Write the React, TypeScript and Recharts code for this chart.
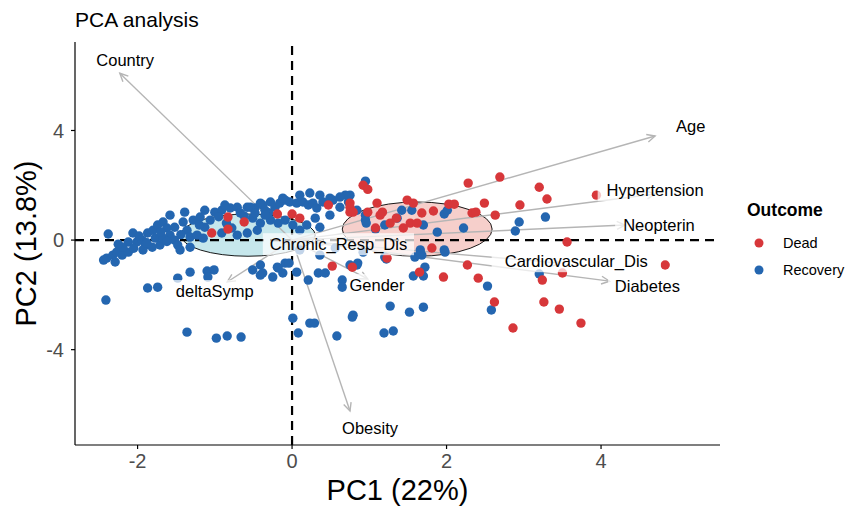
import React from 'react';
import { ScatterChart, Scatter, XAxis, YAxis, ZAxis, ReferenceLine, ReferenceArea, Legend } from 'recharts';

const FONT = '"Liberation Sans", Arial, Helvetica, sans-serif';

// PC scores, [PC1, PC2]
const recoveryScores: [number, number][] = [
  [-2.38, 0.22], [-2.40, -0.66], [-2.32, -0.55], [-2.20, -0.55], [-2.12, -0.44], [-2.06, 0.26], [-2.12, -0.07],
  [-2.01, -0.07], [-1.94, 0.00], [-1.90, -0.18], [-1.87, 0.26], [-1.80, 0.36], [-1.77, 0.07], [-1.71, -0.18],
  [-1.74, 0.55], [-1.67, 0.66], [-1.62, 0.44], [-1.58, 0.18], [-1.52, 0.00], [-1.48, -0.18], [-1.52, 0.47],
  [-1.41, 0.66], [-1.36, 0.36], [-1.32, 0.11], [-1.28, 0.73], [-1.19, 0.84], [-1.23, 0.18], [-1.15, 0.07],
  [-1.13, 0.47], [-1.06, 0.73], [-1.00, 1.02], [-0.91, 1.09], [-0.80, 1.17], [-0.71, 1.20], [-0.58, 1.20],
  [-0.48, 1.17], [-0.38, 1.28], [-0.51, 0.80], [-0.41, 0.62], [-0.71, 0.18], [-0.58, 0.26], [-0.45, 0.36],
  [-0.91, 0.26], [-1.32, -0.26], [-1.45, -0.36], [-1.67, 0.07], [-1.81, -0.26], [-1.93, -0.36], [-2.27, -0.44],
  [-2.19, -0.26], [-2.29, -0.80], [-2.44, -0.73], [-1.58, 0.91], [-1.39, 1.02], [-1.13, 1.09], [-0.87, 1.28],
  [-0.67, 0.99], [-0.78, 0.44], [-2.25, -0.15], [-2.05, -0.30], [-1.98, 0.15], [-1.62, -0.05], [-1.44, 0.20],
  [-1.20, 0.55], [-0.95, 0.85], [-0.85, 0.62], [-0.62, 0.88], [-0.30, 1.00], [-1.70, 0.30], [-1.88, -0.10],
  [-0.54, 1.20], [-0.48, 0.99], [-0.41, 1.35], [-0.35, 1.09], [-0.28, 1.39], [-0.22, 1.20], [-0.16, 1.35],
  [-0.09, 1.46], [-0.03, 1.39], [0.06, 1.35], [0.14, 1.39], [0.21, 1.28], [0.27, 1.35], [0.32, 1.17],
  [-0.28, 0.73], [-0.18, 0.62], [-0.09, 0.73], [0.01, 0.55], [0.19, 0.55], [0.30, 0.80], [0.40, 1.39],
  [0.53, 1.46], [0.62, 1.20], [0.73, 1.39], [0.36, 0.47], [0.75, 1.64], [0.69, 1.64], [0.62, 1.57],
  [0.49, 1.53], [0.95, 2.15], [0.95, 0.73], [1.20, 0.55], [1.36, 0.80], [1.42, 1.09], [0.84, 1.09],
  [0.10, 1.64], [0.23, 1.72], [0.36, 1.64], [-0.12, 1.53], [-0.35, 0.91], [0.10, 0.36], [0.49, 0.91],
  [-0.51, -1.09], [-0.41, -1.28], [-0.19, -0.99], [-0.09, -0.84], [-0.12, -1.20], [-0.25, -1.35], [0.06, -1.17],
  [0.21, -1.46], [0.34, -1.20], [0.43, -1.20], [0.75, -0.91], [0.84, -0.91], [0.65, -1.46], [0.65, -1.72],
  [1.22, -0.69], [1.57, -1.31], [1.70, -1.31], [1.72, -0.99], [2.53, -1.68], [2.58, -2.55], [3.20, -1.24],
  [1.27, -2.41], [1.52, -2.63], [1.70, -2.45], [0.79, -2.74], [0.78, -2.81], [0.01, -2.85], [0.23, -3.03],
  [0.29, -3.03], [0.08, -3.39], [0.58, -3.50], [1.19, -3.39], [1.31, -3.32], [1.66, -0.36], [1.68, -0.55],
  [0.92, -0.44], [1.59, -0.62], [-0.41, -0.91], [-0.38, -1.20], [-0.04, -0.84], [-0.18, -1.02], [-2.41, -2.19],
  [-1.87, -1.75], [-1.74, -1.72], [-1.36, -3.36], [-0.98, -3.58], [-0.84, -3.50], [-0.66, -3.54], [-1.48, -1.39],
  [-1.32, -1.17], [-1.10, -1.13], [-1.01, -1.09], [-1.09, -1.35], [0.10, -0.36], [0.36, -0.55], [0.56, -0.29],
  [1.97, 0.95], [2.01, 1.09], [2.94, 0.66], [2.89, 0.33], [3.28, 0.84], [2.22, 0.44], [1.70, 0.55],
  [1.97, -0.36], [1.66, -0.47], [1.88, 0.29], [0.95, 0.91], [0.96, 0.62], [1.08, 0.40], [1.55, 1.09],
  [1.98, -0.44], [1.20, -0.62], [0.85, -0.84],
];

const deadScores: [number, number][] = [
  [-1.04, 0.26], [-0.83, 0.84], [-0.83, 0.40], [-0.62, 0.66], [0.10, 0.80], [0.00, 0.95], [-0.19, 0.95],
  [0.92, 2.00], [0.98, 1.85], [0.47, 1.28], [0.75, 1.35], [0.75, 1.02], [0.98, 1.02], [1.10, 1.35],
  [1.17, 1.02], [1.27, 0.62], [1.49, 1.46], [1.57, 1.35], [1.68, 0.99], [1.53, 0.62], [1.62, 0.62],
  [1.44, 0.44], [1.08, 0.44], [1.83, 1.06], [2.03, 1.31], [2.10, 1.31], [2.33, 0.99], [2.38, 1.02],
  [2.63, 0.91], [2.49, 1.35], [2.95, 1.28], [2.28, 2.08], [2.69, 2.30], [3.20, 1.93], [3.30, 1.50],
  [3.94, 1.64], [3.56, -0.07], [1.81, -0.29], [2.27, -0.91], [1.96, -1.35], [2.41, -1.39], [3.24, -1.46],
  [3.50, -1.20], [4.83, -0.91], [0.52, -0.95], [0.78, -0.99], [1.65, -1.17], [2.62, -2.26], [2.86, -3.21],
  [3.26, -2.26], [3.46, -2.52], [3.74, -3.03], [1.23, -0.66], [0.75, 1.20], [0.79, 1.02], [1.14, 0.91],
  [1.35, 0.80],
];

// variable loadings (arrow tips) and where their labels sit
const varNames = ['Country', 'Age', 'Hypertension', 'Neopterin', 'Cardiovascular_Dis', 'Diabetes', 'Chronic_Resp_Dis', 'Gender', 'deltaSymp', 'Obesity'];
const arrowTips: [number, number][] = [
  [-2.23, 6.09], [4.70, 3.80], [4.70, 1.68], [4.31, 0.55], [3.47, -0.84], [4.11, -1.50], [0.45, -0.12], [0.98, -1.42], [-0.84, -1.53], [0.75, -6.24],
];
const labelPos: [number, number][] = [
  [-2.16, 6.57], [5.16, 4.16], [4.70, 1.82], [4.75, 0.55], [3.68, -0.77], [4.60, -1.68], [0.60, -0.15], [1.10, -1.64], [-1.00, -1.86], [1.01, -6.86],
];

// concentration ellipses per group: [x1, x2, y1, y2]
const groups = ['Dead', 'Recovery'];
const ellipseBounds: [number, number, number, number][] = [
  [0.65, 2.59, -0.59, 1.39],
  [-1.44, 0.30, -0.59, 0.95],
];

const xTicks = [-2, 0, 2, 4];
const yTicks = [-4, 0, 4];
const xDomain = [-2.81, 5.54];
const yDomain = [-7.48, 7.23];

const COLORS: Record<string, string> = { Dead: '#D7373A', Recovery: '#2466B0' };
const ELLIPSE_FILL: Record<string, string> = { Dead: '#F6CFCB', Recovery: '#C6E7EC' };

const recoveryData = recoveryScores.map(([x, y]) => ({ x, y }));
const deadData = deadScores.map(([x, y]) => ({ x, y }));
const labelData = varNames.map((name, i) => ({ name, x: labelPos[i][0], y: labelPos[i][1] }));

const ArrowShape = (props: any) => {
  const { x1, y1, x2, y2 } = props;
  const ang = Math.atan2(y2 - y1, x2 - x1);
  const L = 9;
  const a = Math.PI / 7;
  const h1 = `${x2 - L * Math.cos(ang - a)},${y2 - L * Math.sin(ang - a)}`;
  const h2 = `${x2 - L * Math.cos(ang + a)},${y2 - L * Math.sin(ang + a)}`;
  return (
    <g>
      <line x1={x1} y1={y1} x2={x2} y2={y2} stroke="#b5b5b5" strokeWidth={1.4} />
      <polyline points={`${h1} ${x2},${y2} ${h2}`} fill="none" stroke="#b5b5b5" strokeWidth={1.4} />
    </g>
  );
};

const makeEllipse = (group: string) => (props: any) => {
  const { x, y, width, height } = props;
  return (
    <ellipse
      cx={x + width / 2}
      cy={y + height / 2}
      rx={Math.abs(width) / 2}
      ry={Math.abs(height) / 2}
      fill={ELLIPSE_FILL[group]}
      stroke="#000"
      strokeWidth={0.9}
    />
  );
};

const makeDot = (color: string) => (props: any) => <circle cx={props.cx} cy={props.cy} r={4.7} fill={color} />;

const LabelShape = (props: any) => {
  const { cx, cy, payload } = props;
  const fs = 16.5;
  const w = payload.name.length * fs * 0.55 + 6;
  return (
    <g>
      <rect x={cx - w / 2} y={cy - 11} width={w} height={22} fill="#fff" fillOpacity={0.72} />
      <text x={cx} y={cy} dy="0.36em" textAnchor="middle" fontSize={fs} fontFamily={FONT} fill="#000">
        {payload.name}
      </text>
    </g>
  );
};

const renderLegend = () => (
  <div style={{ fontFamily: FONT, color: '#000' }}>
    <div style={{ fontWeight: 'bold', fontSize: 17.5, marginBottom: 8 }}>Outcome</div>
    {groups.map((g) => (
      <div key={g} style={{ display: 'flex', alignItems: 'center', height: 27, fontSize: 14.5 }}>
        <svg width={36} height={14}>
          <circle cx={12} cy={7} r={4.5} fill={COLORS[g]} />
        </svg>
        <span>{g}</span>
      </div>
    ))}
  </div>
);

const App: React.FC = () => {
  return (
    <div style={{ position: 'absolute', left: 0, top: 0, width: 857, height: 510, background: '#fff', fontFamily: FONT }}>
      <div style={{ position: 'absolute', left: 75, top: 9, fontSize: 21, lineHeight: '21px', color: '#000' }}>PCA analysis</div>
      <ScatterChart width={857} height={510} margin={{ top: 42, right: 137, left: 0, bottom: 0 }}>
        <XAxis
          type="number"
          dataKey="x"
          domain={xDomain}
          ticks={xTicks}
          allowDataOverflow
          height={65}
          tickSize={4}
          tickMargin={5}
          axisLine={{ stroke: '#000', strokeWidth: 1.2 }}
          tickLine={{ stroke: '#000', strokeWidth: 1.2 }}
          tick={{ fill: '#4d4d4d', fontSize: 20, fontFamily: FONT }}
          label={{ value: 'PC1 (22%)', position: 'insideBottom', offset: 10, style: { fontSize: 29, fill: '#000', fontFamily: FONT } }}
        />
        <YAxis
          type="number"
          dataKey="y"
          domain={yDomain}
          ticks={yTicks}
          allowDataOverflow
          width={75}
          tickSize={4}
          tickMargin={7}
          axisLine={{ stroke: '#000', strokeWidth: 1.2 }}
          tickLine={{ stroke: '#000', strokeWidth: 1.2 }}
          tick={{ fill: '#4d4d4d', fontSize: 20, fontFamily: FONT }}
          label={{ value: 'PC2 (13.8%)', angle: -90, position: 'insideLeft', offset: 26, style: { textAnchor: 'middle', fontSize: 29, fill: '#000', fontFamily: FONT } }}
        />
        <ZAxis range={[64, 64]} />
        {groups.map((g, i) => (
          <ReferenceArea
            key={g}
            x1={ellipseBounds[i][0]}
            x2={ellipseBounds[i][1]}
            y1={ellipseBounds[i][2]}
            y2={ellipseBounds[i][3]}
            shape={makeEllipse(g)}
          />
        ))}
        <ReferenceLine x={0} stroke="#000" strokeWidth={2.2} strokeDasharray="9 6" />
        <ReferenceLine y={0} stroke="#000" strokeWidth={2.2} strokeDasharray="9 6" />
        {varNames.map((name, i) => (
          <ReferenceLine
            key={name}
            segment={[{ x: 0, y: 0 }, { x: arrowTips[i][0], y: arrowTips[i][1] }]}
            shape={ArrowShape}
          />
        ))}
        <Scatter name="Recovery" data={recoveryData} fill={COLORS.Recovery} shape={makeDot(COLORS.Recovery)} isAnimationActive={false} />
        <Scatter name="Dead" data={deadData} fill={COLORS.Dead} shape={makeDot(COLORS.Dead)} isAnimationActive={false} />
        <Scatter name="labels" data={labelData} shape={LabelShape} legendType="none" isAnimationActive={false} />
        <Legend
          layout="vertical"
          align="center"
          verticalAlign="middle"
          content={renderLegend}
          wrapperStyle={{ left: 747, top: 200, width: 110 }}
        />
      </ScatterChart>
    </div>
  );
};

export default App;
